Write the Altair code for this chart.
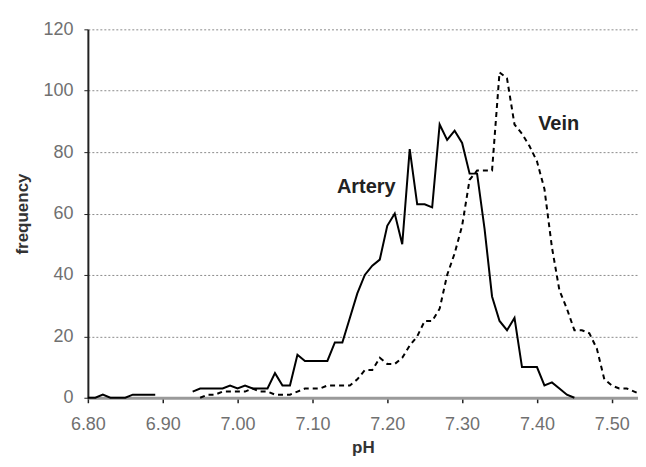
import altair as alt
import pandas as pd

# ---- data ----
artery_ph = [6.80, 6.81, 6.82, 6.83, 6.84, 6.85, 6.86, 6.87, 6.88, 6.89,
             6.90, 6.91, 6.92, 6.93, 6.94, 6.95, 6.96, 6.97, 6.98, 6.99,
             7.00, 7.01, 7.02, 7.03, 7.04, 7.05, 7.06, 7.07, 7.08, 7.09,
             7.10, 7.11, 7.12, 7.13, 7.14, 7.15, 7.16, 7.17, 7.18, 7.19,
             7.20, 7.21, 7.22, 7.23, 7.24, 7.25, 7.26, 7.27, 7.28, 7.29,
             7.30, 7.31, 7.32, 7.33, 7.34, 7.35, 7.36, 7.37, 7.38, 7.39,
             7.40, 7.41, 7.42, 7.43, 7.44, 7.45]
# None = empty bin (no line drawn there)
artery_freq = [0, 0, 1, 0, 0, 0, 1, 1, 1, 1,
               None, None, None, None, 2, 3, 3, 3, 3, 4,
               3, 4, 3, 3, 3, 8, 4, 4, 14, 12,
               12, 12, 12, 18, 18, 26, 34, 40, 43, 45,
               56, 60, 50, 81, 63, 63, 62, 89, 84, 87,
               83, 73, 73, 55, 33, 25, 22, 26, 10, 10,
               10, 4, 5, 3, 1, 0]

vein_ph = [6.95, 6.96, 6.97, 6.98, 6.99,
           7.00, 7.01, 7.02, 7.03, 7.04, 7.05, 7.06, 7.07, 7.08, 7.09,
           7.10, 7.11, 7.12, 7.13, 7.14, 7.15, 7.16, 7.17, 7.18, 7.19,
           7.20, 7.21, 7.22, 7.23, 7.24, 7.25, 7.26, 7.27, 7.28, 7.29,
           7.30, 7.31, 7.32, 7.33, 7.34, 7.35, 7.36, 7.37, 7.38, 7.39,
           7.40, 7.41, 7.42, 7.43, 7.44, 7.45, 7.46, 7.47, 7.48, 7.49,
           7.50, 7.51, 7.52, 7.53, 7.54]
vein_freq = [0, 1, 1, 2, 2,
             2, 2, 3, 2, 2, 1, 1, 1, 2, 3,
             3, 3, 4, 4, 4, 4, 6, 9, 9, 13,
             11, 11, 13, 17, 20, 25, 25, 29, 40, 47,
             56, 71, 74, 74, 74, 106, 104, 89, 86, 82,
             77, 68, 49, 35, 29, 22, 22, 21, 16, 6,
             4, 3, 3, 2, 1]

label_text = ["Artery", "Vein"]
label_ph = [7.172, 7.429]
label_freq = [68.5, 89]

x_ticks = [6.80, 6.85, 6.90, 6.95, 7.00, 7.05, 7.10, 7.15, 7.20, 7.25,
           7.30, 7.35, 7.40, 7.45, 7.50]
y_ticks = [0, 20, 40, 60, 80, 100, 120]

# ---- tables ----
artery_df = pd.DataFrame({"pH": artery_ph, "frequency": artery_freq})
vein_df = pd.DataFrame({"pH": vein_ph, "frequency": vein_freq})
label_df = pd.DataFrame({"pH": label_ph, "frequency": label_freq, "text": label_text})

FONT = "Liberation Sans"

x_scale = alt.Scale(domain=[6.80, 7.535], nice=False, zero=False)
y_scale = alt.Scale(domain=[0, 120], nice=False)

x_axis = alt.Axis(
    values=x_ticks,
    labelExpr="round(datum.value*100) % 10 == 0 ? format(datum.value, '.2f') : ''",
    title="pH",
    grid=False,
    domainColor="#9a9a9a",
    domainWidth=3,
    tickColor="#222222",
    tickWidth=1.5,
    tickSize=5,
    labelPadding=13,
    labelFlush=False,
    labelFont=FONT,
    labelFontSize=18,
    labelColor="#707070",
    labelOverlap=False,
    titleFont=FONT,
    titleFontSize=17,
    titleFontWeight="bold",
    titleColor="#333333",
    titlePadding=6,
)

y_axis = alt.Axis(
    values=y_ticks,
    title="frequency",
    grid=True,
    gridColor="#8c8c8c",
    gridDash=[2, 2],
    gridWidth=1,
    domainColor="#222222",
    domainWidth=2,
    tickColor="#222222",
    tickSize=4,
    labelPadding=11,
    labelFont=FONT,
    labelFontSize=18,
    labelColor="#707070",
    titleFont=FONT,
    titleFontSize=17,
    titleFontWeight="bold",
    titleColor="#333333",
    titlePadding=11,
)

artery = alt.Chart(artery_df).mark_line(
    color="black", strokeWidth=2, invalid="break-paths-show-domains"
).encode(
    x=alt.X("pH:Q", scale=x_scale, axis=x_axis),
    y=alt.Y("frequency:Q", scale=y_scale, axis=y_axis),
)

vein = alt.Chart(vein_df).mark_line(color="black", strokeWidth=2, strokeDash=[5, 4]).encode(
    x=alt.X("pH:Q", scale=x_scale),
    y=alt.Y("frequency:Q", scale=y_scale),
)

labels = alt.Chart(label_df).mark_text(
    font=FONT, fontSize=20, fontWeight="bold", color="#222222", align="center", baseline="middle"
).encode(
    x=alt.X("pH:Q", scale=x_scale),
    y=alt.Y("frequency:Q", scale=y_scale),
    text="text:N",
)

chart = alt.layer(artery, vein, labels).properties(
    width=551,
    height=369,
    autosize=alt.AutoSizeParams(type="none"),
    padding={"left": 80, "top": 21, "right": 0, "bottom": 68},
    background="white",
).configure_view(stroke=None)

chart.save("out.html", embed_options={"renderer": "svg", "actions": False})
